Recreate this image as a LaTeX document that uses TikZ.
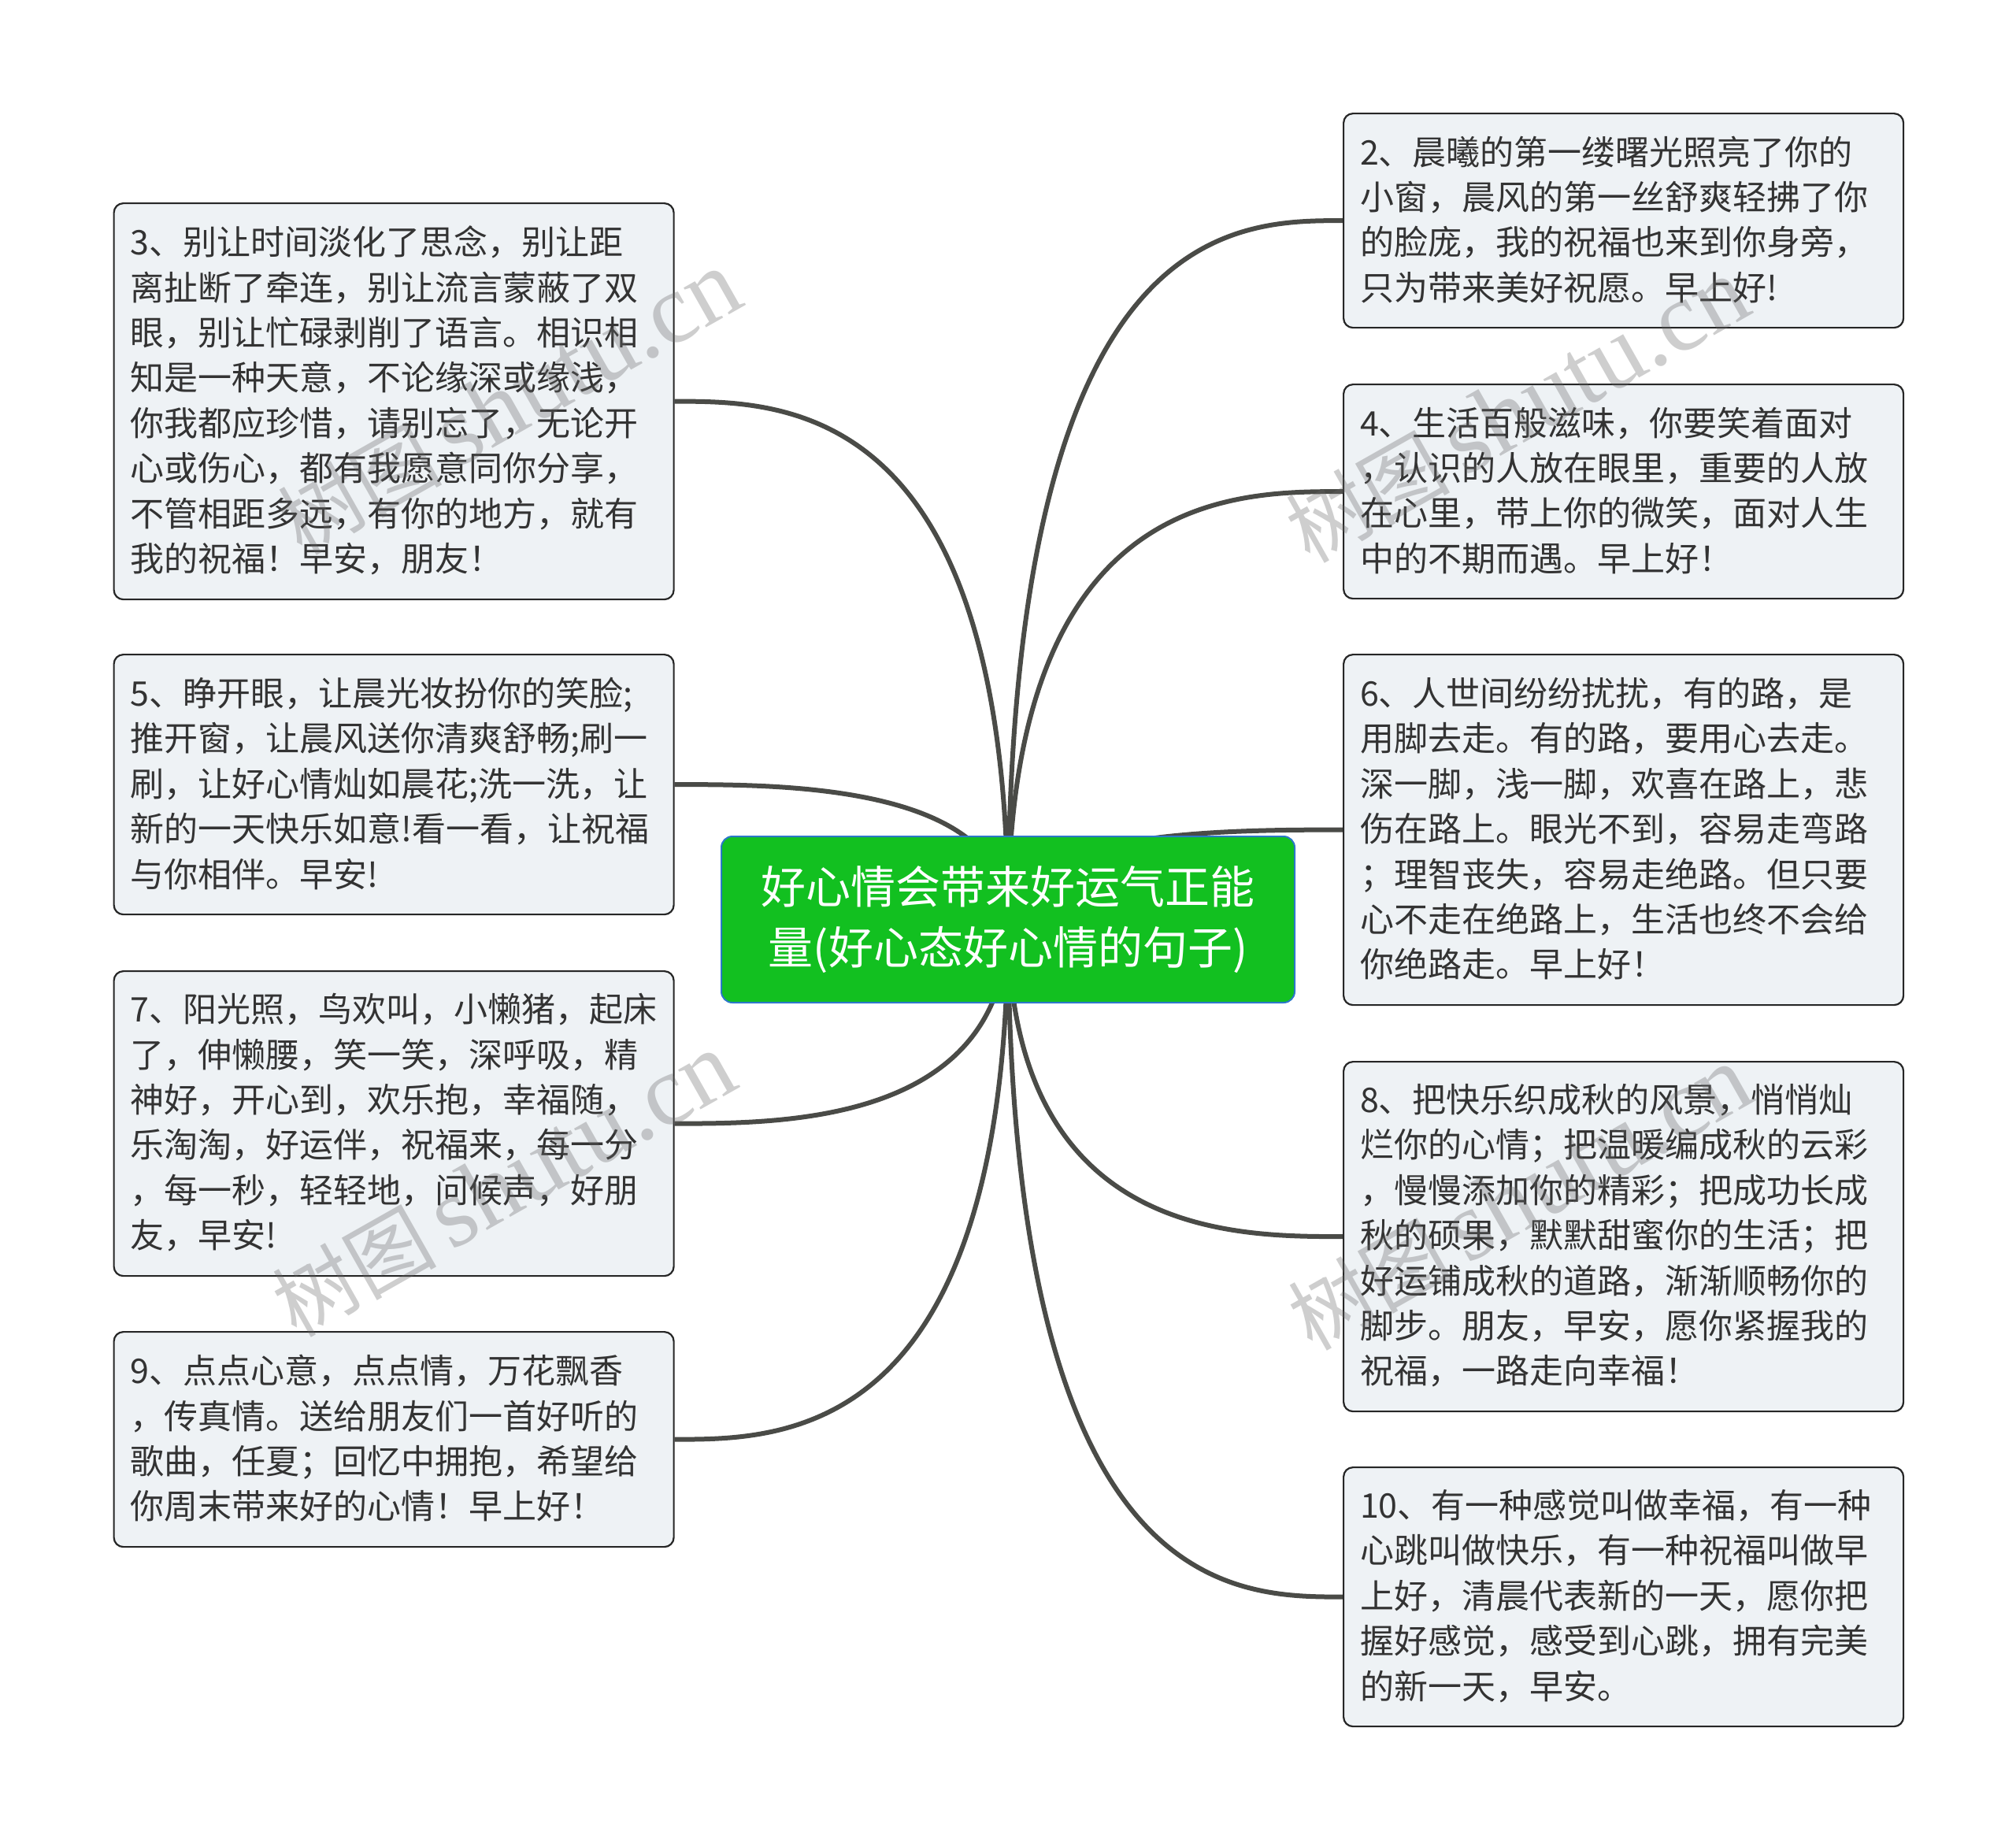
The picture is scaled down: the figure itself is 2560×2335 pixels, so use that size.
\documentclass[tikz,border=0pt]{standalone}
\usepackage{fontspec}
\setmainfont{Noto Sans CJK SC}
\newfontfamily\markfont{Liberation Serif}
\newfontfamily\markcjk{Noto Sans CJK SC}
\usetikzlibrary{calc,backgrounds}
\definecolor{leaffill}{HTML}{EEF2F5}
\definecolor{leafline}{HTML}{262626}
\definecolor{leaftext}{HTML}{333333}
\definecolor{rootfill}{HTML}{12C020}
\definecolor{rootline}{HTML}{2B78C8}
\definecolor{branchline}{HTML}{4A4B47}
\tikzset{
leaf/.style={
  draw=leafline,
  fill=leaffill,
  line width=1.1pt,
  rounded corners=6pt,
  anchor=north west,
  minimum width=355.5pt,
  text width=334.5pt,
  inner xsep=10.5pt,
  inner ysep=0pt,
  align=left,
  text=leaftext,
  execute at end node={\vspace{1.2pt}},
  font=\fontsize{21.5}{28.7}\selectfont
},
root/.style={
  draw=rootline,
  fill=rootfill,
  line width=1pt,
  rounded corners=7pt,
  minimum width=364pt,
  minimum height=105.5pt,
  text width=340pt,
  inner sep=0pt,
  align=center,
  text=white,
  font=\fontsize{28.5}{38.4}\selectfont
},
branch/.style={draw=branchline,line width=3pt},
shuimark/.style={rotate=29.5,text=black!60,opacity=.32}
}
\begin{document}
\begin{tikzpicture}[x=.5pt,y=-.5pt]
\useasboundingbox (0,0) rectangle (2560,2335);
\node[root] (mat) at (1280,1167.5) {好心情会带来好运气正能\\量(好心态好心情的句子)};
% the right column
\node[leaf,minimum height=136pt] (n2) at (1705,143) {2、晨曦的第一缕曙光照亮了你的\\
小窗，晨风的第一丝舒爽轻拂了你\\
的脸庞，我的祝福也来到你身旁，\\
只为带来美好祝愿。早上好!};
\node[leaf,minimum height=136pt] (n4) at (1705,487) {4、生活百般滋味，你要笑着面对\\
，认识的人放在眼里，重要的人放\\
在心里，带上你的微笑，面对人生\\
中的不期而遇。早上好！};
\node[leaf,minimum height=222.5pt] (n6) at (1705,830) {6、人世间纷纷扰扰，有的路，是\\
用脚去走。有的路，要用心去走。\\
深一脚，浅一脚，欢喜在路上，悲\\
伤在路上。眼光不到，容易走弯路\\
；理智丧失，容易走绝路。但只要\\
心不走在绝路上，生活也终不会给\\
你绝路走。早上好！};
\node[leaf,minimum height=222pt] (n8) at (1705,1347) {8、把快乐织成秋的风景，悄悄灿\\
烂你的心情；把温暖编成秋的云彩\\
，慢慢添加你的精彩；把成功长成\\
秋的硕果，默默甜蜜你的生活；把\\
好运铺成秋的道路，渐渐顺畅你的\\
脚步。朋友，早安，愿你紧握我的\\
祝福，一路走向幸福！};
\node[leaf,minimum height=164.5pt] (n10) at (1705,1862) {10、有一种感觉叫做幸福，有一种\\
心跳叫做快乐，有一种祝福叫做早\\
上好，清晨代表新的一天，愿你把\\
握好感觉，感受到心跳，拥有完美\\
的新一天，早安。};
% the left column
\node[leaf,minimum height=251.5pt] (n3) at (143.5,257) {3、别让时间淡化了思念，别让距\\
离扯断了牵连，别让流言蒙蔽了双\\
眼，别让忙碌剥削了语言。相识相\\
知是一种天意，不论缘深或缘浅，\\
你我都应珍惜，请别忘了，无论开\\
心或伤心，都有我愿意同你分享，\\
不管相距多远，有你的地方，就有\\
我的祝福！早安，朋友！};
\node[leaf,minimum height=165pt] (n5) at (143.5,830) {5、睁开眼，让晨光妆扮你的笑脸;\\
推开窗，让晨风送你清爽舒畅;刷一\\
刷，让好心情灿如晨花;洗一洗，让\\
新的一天快乐如意!看一看，让祝福\\
与你相伴。早安!};
\node[leaf,minimum height=193.5pt] (n7) at (143.5,1232) {7、阳光照，鸟欢叫，小懒猪，起床\\
了，伸懒腰，笑一笑，深呼吸，精\\
神好，开心到，欢乐抱，幸福随，\\
乐淘淘，好运伴，祝福来，每一分\\
，每一秒，轻轻地，问候声，好朋\\
友，早安!};
\node[leaf,minimum height=136.5pt] (n9) at (143.5,1690) {9、点点心意，点点情，万花飘香\\
，传真情。送给朋友们一首好听的\\
歌曲，任夏；回忆中拥抱，希望给\\
你周末带来好的心情！早上好！};
% the branches
\begin{scope}[on background layer]
\foreach \x in {n2,n4,n6,n8,n10}
{
  \draw[branch] (mat.center) .. controls (mat.center |- \x.west) and ($(mat.center |- \x.west)!.667!(\x.west)$) .. (\x.west);
}
\foreach \x in {n3,n5,n7,n9}
{
  \draw[branch] (mat.center) .. controls (mat.center |- \x.east) and ($(mat.center |- \x.east)!.667!(\x.east)$) .. (\x.east);
}
\end{scope}
% the watermarks
\foreach \x/\y/\z in {647/512/w1,640/1505/w2,1927/522/w3,1930/1522/w4}
{
  \node[shuimark] (\z) at (\x,\y) {{\markcjk\fontsize{52}{52}\selectfont 树图}\hspace{9pt}{\markfont\fontsize{63}{63}\selectfont shutu.cn}};
}
\end{tikzpicture}
\end{document}
